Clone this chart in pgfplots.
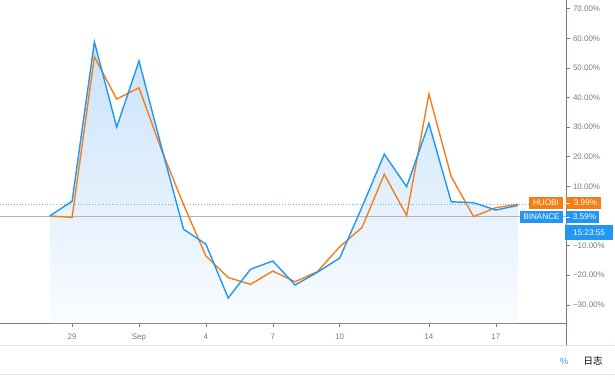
\documentclass[border=0pt]{standalone}
\usepackage{fontspec}
\setmainfont{Liberation Sans}
\newfontfamily\cjk{Noto Sans CJK SC}
\usepackage{pgfplots}
\pgfplotsset{compat=1.18}
\definecolor{tvblue}{RGB}{33,150,243}
\definecolor{tvorange}{RGB}{245,127,23}
\definecolor{tvgray}{RGB}{120,123,134}
\definecolor{tvlight}{RGB}{224,227,235}
\definecolor{zerogray}{RGB}{178,181,190}
\begin{document}
\begin{tikzpicture}[x=1bp,y=1bp]
\begin{axis}[
  scale only axis, width=566bp, height=323bp,
  at={(0,0)}, anchor=south west,
  xmin=-5.233, xmax=20.148, ymin=-36.15, ymax=72.97,
  axis x line*=bottom, axis y line*=right,
  axis line style={tvgray, line width=0.8bp},
  xtick={-2,1,4,7,10,14,17},
  xticklabels={29,Sep,4,7,10,14,17},
  ytick={-30,-20,-10,10,20,30,40,50,60,70},
  yticklabels={−30.00\%,−20.00\%,−10.00\%,10.00\%,20.00\%,30.00\%,40.00\%,50.00\%,60.00\%,70.00\%},
  tick align=outside, major tick length=4bp,
  tick style={tvgray, line width=0.6bp},
  ticklabel style={font=\fontsize{8}{9}\selectfont, text=tvgray},
  xticklabel style={yshift=-3bp},
  yticklabel style={xshift=-0.5bp},
  clip=false,
]
\addplot[draw=none, top color={rgb,255:red,200;green,226;blue,250}, bottom color={rgb,255:red,250;green,252;blue,255}, forget plot] coordinates {
(-3,0) (-2,5) (-1,58.8) (0,30) (1,52.4) (2,23.5) (3,-4.5) (4,-9.5) (5,-27.7) (6,-18) (7,-15.2) (8,-23.3) (9,-19) (10,-14.2) (11,3) (12,20.9) (13,9.9) (14,31.3) (15,4.8) (16,4.5) (17,2) (18,3.59) (18,-36.15) (-3,-36.15)} -- cycle;
\draw[zerogray, line width=0.8bp] (axis cs:-5.233,0) -- (axis cs:20.148,0);
\draw[tvblue!70, dotted, line width=0.8bp] (axis cs:-5.233,3.99) -- (axis cs:20.148,3.99);
\addplot[tvorange, line width=1.4bp] coordinates {
(-3,0) (-2,-0.5) (-1,53.8) (0,39.5) (1,43.3) (2,22.5) (3,3.8) (4,-13.5) (5,-20.8) (6,-23.1) (7,-18.6) (8,-22.2) (9,-18.8) (10,-10.4) (11,-3.9) (12,14.1) (13,0.1) (14,41.2) (15,13.3) (16,-0.2) (17,2.8) (18,3.99)};
\addplot[tvblue, line width=1.4bp] coordinates {
(-3,0) (-2,5) (-1,58.8) (0,30) (1,52.4) (2,23.5) (3,-4.5) (4,-9.5) (5,-27.7) (6,-18) (7,-15.2) (8,-23.3) (9,-19) (10,-14.2) (11,3) (12,20.9) (13,9.9) (14,31.3) (15,4.8) (16,4.5) (17,2) (18,3.59)};
\end{axis}
% extension of the price axis and bottom toolbar
\draw[tvgray, line width=0.8bp] (566,0) -- (566,-22);
\draw[tvlight, line width=0.8bp] (0,-22) -- (615,-22);
\draw[tvlight, line width=0.8bp] (0,-51) -- (615,-51);
\node[text=tvblue, font=\fontsize{9}{10}\selectfont] at (564,-38) {\%};
\node[text=black, font=\fontsize{9.5}{10}\selectfont\cjk] at (593,-38) {日志};
% labels
\tikzset{lab/.style={inner sep=0pt, minimum height=12bp, text=white, font=\fontsize{8.2}{9}\selectfont}}
\node[lab, fill=tvorange, minimum width=34bp] at (546,120) {HUOBI};
\node[lab, fill=tvorange, minimum width=35bp] at (583.5,120) {\hspace{4bp}3.99\%};
\node[lab, fill=tvblue, minimum width=43bp] at (541.5,106) {BINANCE};
\node[lab, fill=tvblue, minimum width=33bp] at (582.5,106) {\hspace{4bp}3.59\%};
\node[lab, fill=tvblue, minimum width=48bp, minimum height=15bp] at (589,90.5) {15:23:55};
\draw[white, line width=0.6bp] (566,120) -- (570,120);
\draw[white, line width=0.6bp] (566,106) -- (570,106);
\pgfresetboundingbox
\path (0,-56) rectangle (615,323);
\end{tikzpicture}
\end{document}
